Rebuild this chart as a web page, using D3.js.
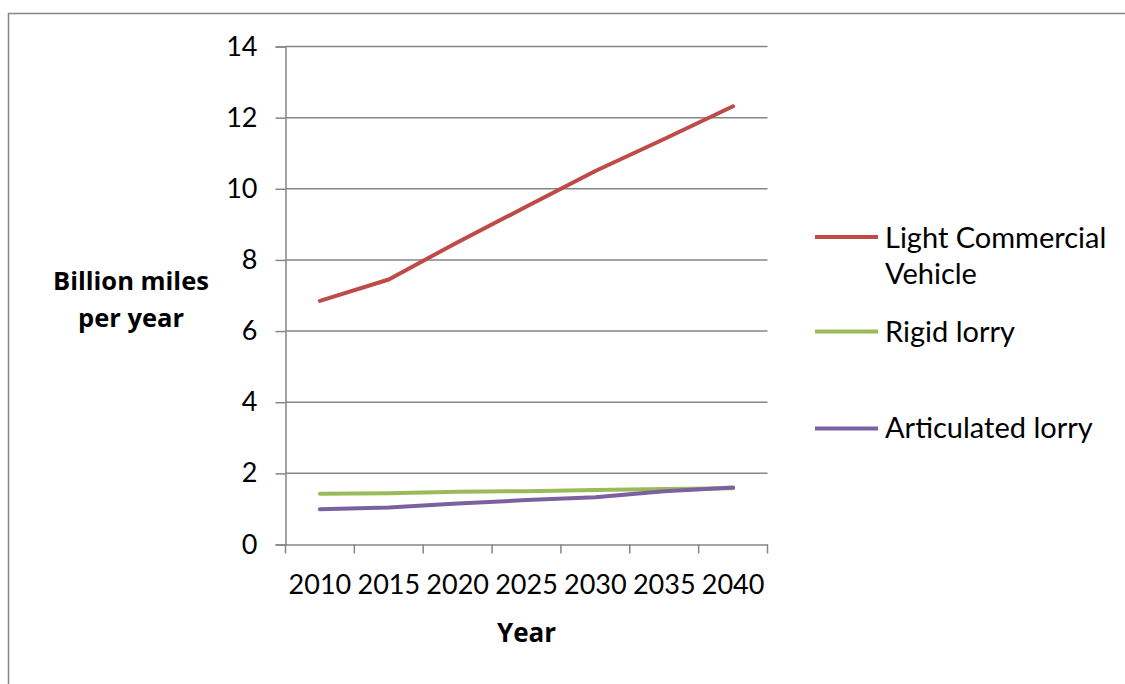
<!DOCTYPE html>
<html>
<head>
<meta charset="utf-8">
<script src="https://cdn.jsdelivr.net/npm/d3@7"></script>
<style>
  html, body { margin: 0; padding: 0; background: #fff; }
  svg { display: block; }
</style>
</head>
<body>
<svg id="chart" width="1125" height="684"></svg>
<script>
const years = ["2010", "2015", "2020", "2025", "2030", "2035", "2040"];
const seriesNames = ["Light Commercial Vehicle", "Rigid lorry", "Articulated lorry"];
const lcv = [6.85, 7.45, 8.5, 9.5, 10.5, 11.4, 12.32];
const rigid = [1.43, 1.44, 1.48, 1.5, 1.53, 1.56, 1.58];
const articulated = [0.99, 1.04, 1.15, 1.25, 1.33, 1.5, 1.6];
const yTicks = [0, 2, 4, 6, 8, 10, 12, 14];
const seriesColors = ["#BE4B48", "#9BBB59", "#7D60A0"];

const svg = d3.select("#chart");

// outer frame (left and top edges visible)
svg.append("path")
  .attr("d", "M8.5,684 L8.5,13.5 L1125,13.5")
  .attr("fill", "none")
  .attr("stroke", "#868686")
  .attr("stroke-width", 1.5);

const x = d3.scaleBand().domain(years).range([285.5, 767.5]).padding(0);
const y = d3.scaleLinear().domain([0, 14]).range([544.5, 46.5]);

// gridlines
svg.append("g").selectAll("line").data(yTicks.filter(d => d > 0)).join("line")
  .attr("x1", 285.5).attr("x2", 767.5)
  .attr("y1", d => y(d)).attr("y2", d => y(d))
  .attr("stroke", "#868686").attr("stroke-width", 1.5);

// y axis
const yAxis = svg.append("g").attr("transform", "translate(285.5,0)")
  .call(d3.axisLeft(y).tickValues(yTicks).tickSize(10).tickPadding(18).tickFormat(d3.format("d")));
yAxis.select(".domain").attr("stroke", "#868686").attr("stroke-width", 1.5);
yAxis.selectAll(".tick line").attr("stroke", "#868686").attr("stroke-width", 1.5);
yAxis.selectAll(".tick text").style("font-size", "27px").style("font-family", "Lato").attr("fill", "#000");

// x axis
const xAxis = svg.append("g").attr("transform", `translate(0,${y(0)})`)
  .call(d3.axisBottom(x).tickSize(0).tickPadding(30));
xAxis.select(".domain").attr("stroke", "#868686").attr("stroke-width", 1.5);
xAxis.selectAll(".tick text").style("font-size", "27px").style("font-family", "Lato").attr("fill", "#000");
// category boundary ticks
const bounds = years.map(d => x(d)).concat([x(years[years.length - 1]) + x.bandwidth()]);
xAxis.append("g").selectAll("line").data(bounds).join("line")
  .attr("x1", d => d).attr("x2", d => d).attr("y1", 0).attr("y2", 9)
  .attr("stroke", "#868686").attr("stroke-width", 1.5);

// lines
const allSeries = [lcv, rigid, articulated];
const line = d3.line()
  .x((d, i) => x(years[i]) + x.bandwidth() / 2)
  .y(d => y(d));
svg.append("g").selectAll("path").data(allSeries).join("path")
  .attr("d", d => line(d))
  .attr("fill", "none")
  .attr("stroke", (d, i) => seriesColors[i])
  .attr("stroke-width", 4)
  .attr("stroke-linejoin", "round")
  .attr("stroke-linecap", "round");

// axis titles
const yt = svg.append("text").attr("text-anchor", "middle")
  .style("font-family", "'Open Sans'").style("font-size", "25.5px").style("font-weight", "bold");
yt.append("tspan").attr("x", 131).attr("y", 290).text("Billion miles");
yt.append("tspan").attr("x", 131).attr("y", 327).text("per year");

svg.append("text").attr("x", 526.5).attr("y", 642).attr("text-anchor", "middle")
  .style("font-family", "'Open Sans'").style("font-size", "26px").style("font-weight", "bold").text("Year");

// legend
const legendY = [237, 331.5, 428.5];
const lg = svg.append("g").style("font-family", "Lato").style("font-size", "29px");
lg.selectAll("line").data(seriesNames).join("line")
  .attr("x1", 815).attr("x2", 878)
  .attr("y1", (d, i) => legendY[i]).attr("y2", (d, i) => legendY[i])
  .attr("stroke", (d, i) => seriesColors[i]).attr("stroke-width", 4);
const lt = lg.append("text");
lt.append("tspan").attr("x", 885).attr("y", 248).text("Light Commercial");
lt.append("tspan").attr("x", 885).attr("y", 284).text("Vehicle");
lg.append("text").attr("x", 885).attr("y", 342).text(seriesNames[1]);
lg.append("text").attr("x", 885).attr("y", 438).text(seriesNames[2]);
</script>
</body>
</html>
